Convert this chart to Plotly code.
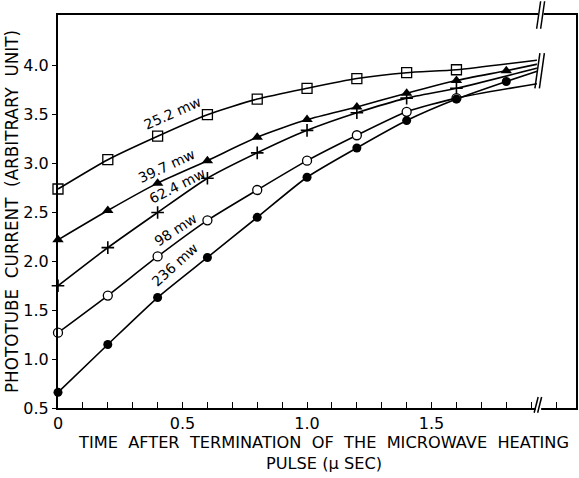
import plotly.graph_objects as go

# ---- data ----
t_points = [0.0, 0.2, 0.4, 0.6, 0.8, 1.0, 1.2, 1.4, 1.6, 1.8]
t_end = 1.93

p252_y = [2.74, 3.04, 3.28, 3.50, 3.66, 3.77, 3.87, 3.93, 3.96]
p252_end = 4.06
p397_y = [2.22, 2.52, 2.80, 3.03, 3.27, 3.45, 3.58, 3.72, 3.85, 3.95]
p397_end = 4.02
p624_y = [1.75, 2.14, 2.50, 2.85, 3.11, 3.34, 3.52, 3.67, 3.77]
p624_end = 3.98
p98_y = [1.27, 1.65, 2.05, 2.42, 2.73, 3.03, 3.29, 3.53, 3.67]
p98_end = 3.82
p236_y = [0.66, 1.15, 1.63, 2.04, 2.45, 2.86, 3.16, 3.44, 3.66, 3.84]
p236_end = 3.95

labels = ["25.2 mw", "39.7 mw", "62.4 mw", "98 mw", "236 mw"]
label_x = [0.46, 0.435, 0.478, 0.47, 0.468]
label_y = [3.52, 2.98, 2.77, 2.32, 1.96]
label_angle = [-24, -25, -27, -33, -42]

x_tickvals = [0, 0.5, 1.0, 1.5]
x_ticktext = ["0", "0.5", "1.0", "1.5"]
y_tickvals = [0.5, 1.0, 1.5, 2.0, 2.5, 3.0, 3.5, 4.0]
y_ticktext = ["0.5", "1.0", "1.5", "2.0", "2.5", "3.0", "3.5", "4.0"]

series = [
    (p252_y, p252_end, dict(symbol="square-open", size=10, color="black", line=dict(width=1.3, color="black"))),
    (p397_y, p397_end, dict(symbol="triangle-up", size=10, color="black")),
    (p624_y, p624_end, dict(symbol="cross-thin", size=9, color="black", line=dict(width=1.6, color="black"))),
    (p98_y, p98_end, dict(symbol="circle", size=9, color="white", line=dict(width=1.3, color="black"))),
    (p236_y, p236_end, dict(symbol="circle", size=9, color="black")),
]

FONT = "DejaVu Sans, Verdana, sans-serif"
fig = go.Figure()

for ys, yend, mk in series:
    xs = t_points[:len(ys)]
    fig.add_trace(go.Scatter(x=xs + [t_end], y=ys + [yend], mode="lines",
                             line=dict(color="black", width=1.6, shape="spline", smoothing=0.6),
                             hoverinfo="skip", showlegend=False))
for ys, yend, mk in series:
    xs = t_points[:len(ys)]
    fig.add_trace(go.Scatter(x=xs, y=ys, mode="markers", marker=mk,
                             cliponaxis=False, showlegend=False))

for txt, lx, ly, ang in zip(labels, label_x, label_y, label_angle):
    fig.add_annotation(x=lx, y=ly, text=txt, showarrow=False, textangle=ang,
                       font=dict(family=FONT, size=14, color="black"))

def brk(x0, y0, x1, y1):
    fig.add_shape(type="line", xref="x", yref="y", x0=x0, y0=y0, x1=x1, y1=y1,
                  line=dict(color="black", width=1.5))

# break across curves
fig.add_shape(type="rect", xref="x", yref="y", x0=1.923, x1=1.945, y0=3.77, y1=4.13,
              fillcolor="white", line=dict(width=0), layer="above")
brk(1.915, 3.77, 1.935, 4.13)
brk(1.933, 3.77, 1.953, 4.13)
# break on top frame
fig.add_shape(type="rect", xref="x", yref="paper", x0=1.928, x1=1.95, y0=0.985, y1=1.02,
              fillcolor="white", line=dict(width=0), layer="above")
fig.add_shape(type="line", xref="x", yref="paper", x0=1.922, y0=0.965, x1=1.938, y1=1.035,
              line=dict(color="black", width=1.5))
fig.add_shape(type="line", xref="x", yref="paper", x0=1.938, y0=0.965, x1=1.954, y1=1.035,
              line=dict(color="black", width=1.5))
# break on bottom axis
fig.add_shape(type="rect", xref="x", yref="paper", x0=1.918, x1=1.94, y0=-0.02, y1=0.015,
              fillcolor="white", line=dict(width=0), layer="above")
fig.add_shape(type="line", xref="x", yref="paper", x0=1.912, y0=-0.012, x1=1.928, y1=0.028,
              line=dict(color="black", width=1.5))
fig.add_shape(type="line", xref="x", yref="paper", x0=1.926, y0=-0.012, x1=1.942, y1=0.028,
              line=dict(color="black", width=1.5))

S2 = "\u00a0\u00a0"
xtitle = S2.join(["TIME", "AFTER", "TERMINATION", "OF", "THE", "MICROWAVE", "HEATING"]) + "<br>PULSE\u00a0(\u03bc\u00a0SEC)"
ytitle = S2.join(["PHOTOTUBE", "CURRENT", "(ARBITRARY", "UNIT)"])

fig.add_annotation(xref="paper", yref="paper", x=0.513, y=-0.058, xanchor="center", yanchor="top",
                   text=xtitle, showarrow=False, align="center",
                   font=dict(size=16.2, family=FONT, color="black"))

fig.update_layout(
    width=579, height=478,
    margin=dict(l=58, r=1, t=15, b=70),
    paper_bgcolor="white", plot_bgcolor="white",
    font=dict(family=FONT, color="black"),
    xaxis=dict(range=[0, 2.08], showgrid=False, zeroline=False,
               showline=True, linecolor="black", linewidth=2, mirror=True,
               tickmode="array", tickvals=x_tickvals, ticktext=x_ticktext,
               ticks="inside", ticklen=6, tickwidth=1.3, tickcolor="black",
               minor=dict(dtick=0.1, tick0=0, ticks="inside", ticklen=6, tickwidth=1.3, tickcolor="black"),
               tickfont=dict(size=16, family=FONT, color="black")),
    yaxis=dict(range=[0.5, 4.52], showgrid=False, zeroline=False,
               showline=True, linecolor="black", linewidth=2, mirror=True,
               tickmode="array", tickvals=y_tickvals, ticktext=y_ticktext,
               ticks="outside", ticklen=4, tickwidth=1.3, tickcolor="black",
               tickfont=dict(size=16, family=FONT, color="black"),
               title=dict(text=ytitle,
                          font=dict(size=16.8, family=FONT, color="black"), standoff=0)),
)

fig.write_html("out.html", config={"displayModeBar": False})
